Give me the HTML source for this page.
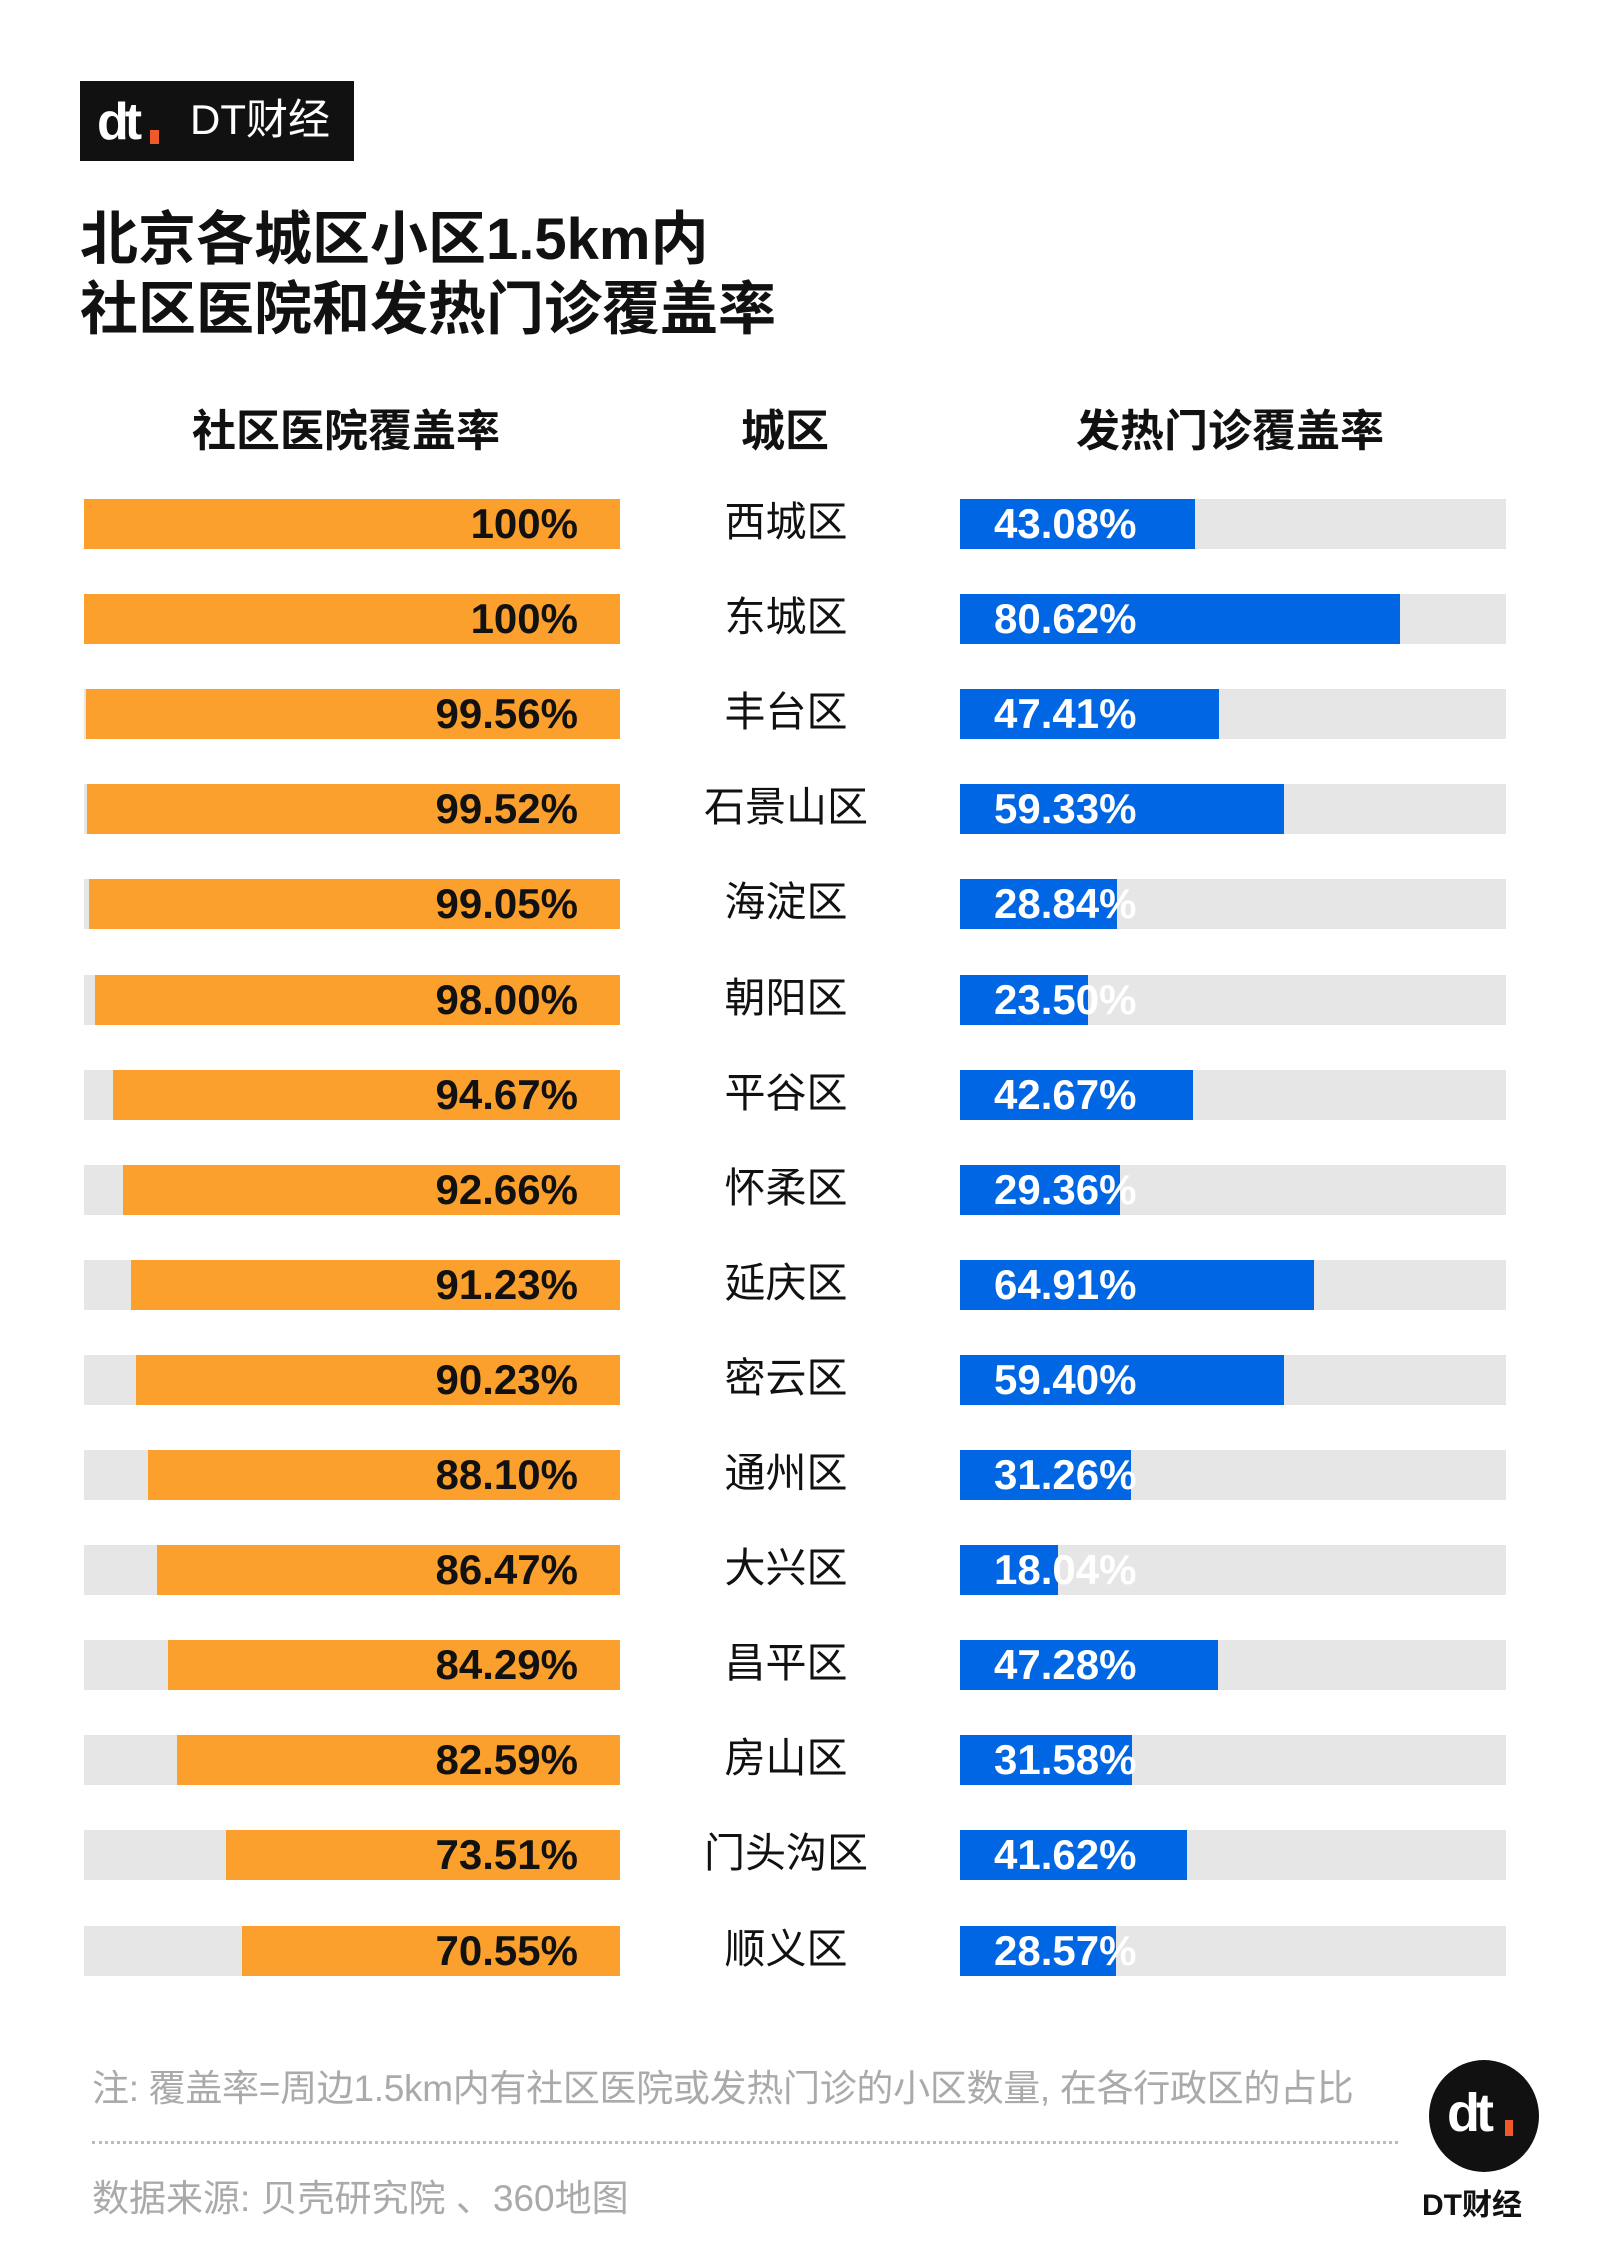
<!DOCTYPE html>
<html><head><meta charset="utf-8"><style>
*{margin:0;padding:0;box-sizing:border-box}
body{width:1601px;height:2255px;background:#fff;position:relative;overflow:hidden;font-family:"Liberation Sans","Noto Sans CJK SC",sans-serif}
.a{position:absolute}
.t{font-weight:700;font-size:58px;color:#111;left:80px;line-height:70px;letter-spacing:0px;white-space:nowrap}
.h{font-weight:700;font-size:44px;color:#111;top:405px;line-height:54px;white-space:nowrap}
.lb{left:84px;width:536px;height:50px;background:#e6e6e6}
.ob{height:50px;background:#fba02c;right:0;top:0;position:absolute}
.rb{left:960px;width:546px;height:50px;background:#e6e6e6}
.bb{height:50px;background:#0066e3;left:0;top:0;position:absolute}
.pl{position:absolute;right:42px;top:0;line-height:50px;font-family:"Liberation Sans Narrow","Liberation Sans",sans-serif;font-weight:700;font-size:42px;color:#111}
.pr{position:absolute;left:34px;top:0;line-height:50px;font-family:"Liberation Sans Narrow","Liberation Sans",sans-serif;font-weight:700;font-size:42px;color:#fff}
.c{left:681px;width:210px;text-align:center;font-size:41px;color:#111;line-height:50px;white-space:nowrap}
</style></head><body>
<div class="a" style="left:80px;top:81px;width:274px;height:80px;background:#111"></div>
<div class="a" style="left:97px;top:98px;font-family:'Liberation Sans',sans-serif;font-weight:900;font-size:52px;color:#fff;line-height:48px;letter-spacing:-4px">dt</div>
<div class="a" style="left:150px;top:130px;width:9px;height:14px;background:#f05a28"></div>
<div class="a" style="left:190px;top:96px;font-size:42px;color:#fff;line-height:48px;white-space:nowrap">DT财经</div>
<div class="a t" style="top:205px">北京各城区小区1.5km内</div>
<div class="a t" style="top:275px">社区医院和发热门诊覆盖率</div>
<div class="a h" style="left:192px">社区医院覆盖率</div>
<div class="a h" style="left:741px">城区</div>
<div class="a h" style="left:1076px">发热门诊覆盖率</div>
<div id="rows"></div>
<div class="a" style="left:92px;top:2066px;font-size:37px;color:#aaa;line-height:46px;white-space:nowrap;letter-spacing:-0.3px">注: 覆盖率=周边1.5km内有社区医院或发热门诊的小区数量, 在各行政区的占比</div>
<div class="a" style="left:92px;top:2141px;width:1306px;border-top:3px dotted #bbb"></div>
<div class="a" style="left:92px;top:2176px;font-size:37px;color:#aaa;line-height:46px;white-space:nowrap">数据来源: 贝壳研究院 、360地图</div>
<div class="a" style="left:1429px;top:2060px;width:110px;height:112px;border-radius:50%;background:#111"></div>
<div class="a" style="left:1447px;top:2088px;font-weight:900;font-size:54px;color:#fff;line-height:50px;letter-spacing:-4px">dt</div>
<div class="a" style="left:1505px;top:2120px;width:8px;height:16px;background:#f05a28"></div>
<div class="a" style="left:1422px;top:2188px;font-weight:700;font-size:30px;color:#111;line-height:36px">DT财经</div>
<script>
var d=[["西城区",100,"100%",43.08],["东城区",100,"100%",80.62],["丰台区",99.56,"99.56%",47.41],["石景山区",99.52,"99.52%",59.33],["海淀区",99.05,"99.05%",28.84],["朝阳区",98,"98.00%",23.50],["平谷区",94.67,"94.67%",42.67],["怀柔区",92.66,"92.66%",29.36],["延庆区",91.23,"91.23%",64.91],["密云区",90.23,"90.23%",59.40],["通州区",88.10,"88.10%",31.26],["大兴区",86.47,"86.47%",18.04],["昌平区",84.29,"84.29%",47.28],["房山区",82.59,"82.59%",31.58],["门头沟区",73.51,"73.51%",41.62],["顺义区",70.55,"70.55%",28.57]];
var h="";
d.forEach(function(r,i){var y=499+i*95.1;
h+='<div class="a lb" style="top:'+y+'px"><div class="ob" style="width:'+(536*r[1]/100)+'px"></div><div class="pl">'+r[2]+'</div></div>';
h+='<div class="a c" style="top:'+(y-2)+'px">'+r[0]+'</div>';
h+='<div class="a rb" style="top:'+y+'px"><div class="bb" style="width:'+(546*r[3]/100)+'px"></div><div class="pr">'+r[3].toFixed(2)+'%</div></div>';});
document.getElementById("rows").innerHTML=h;
</script>
</body></html>
